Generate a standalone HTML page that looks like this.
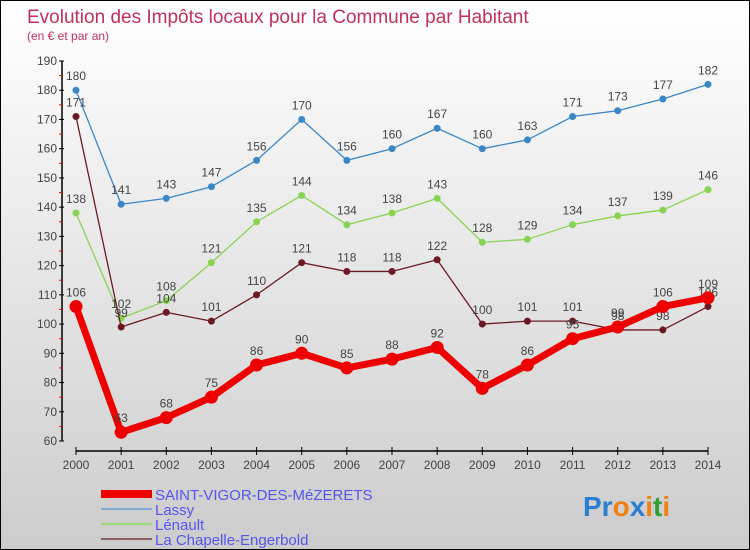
<!DOCTYPE html>
<html><head><meta charset="utf-8"><style>
body{margin:0;}
#c{width:750px;height:550px;position:relative;box-sizing:border-box;border:1px solid #000;background:linear-gradient(#ffffff,#cccccc);font-family:"Liberation Sans",sans-serif;overflow:hidden;}
svg text{font-family:"Liberation Sans",sans-serif;}
</style></head><body>
<div id="c">
<svg id="s" width="750" height="550">
<text x="26" y="22" font-size="19" fill="#c0305a">Evolution des Impôts locaux pour la Commune par Habitant</text>
<text x="26" y="39" font-size="12" fill="#c0305a">(en € et par an)</text>
</svg>
</div>
<script>
const years=[2000,2001,2002,2003,2004,2005,2006,2007,2008,2009,2010,2011,2012,2013,2014];
const saintVigor=[106,63,68,75,86,90,85,88,92,78,86,95,99,106,109];
const lassy=[180,141,143,147,156,170,156,160,167,160,163,171,173,177,182];
const lenault=[138,102,108,121,135,144,134,138,143,128,129,134,137,139,146];
const chapelle=[171,99,104,101,110,121,118,118,122,100,101,101,98,98,106];
const yTicks=[60,70,80,90,100,110,120,130,140,150,160,170,180,190];
const NS="http://www.w3.org/2000/svg";
const s=document.getElementById('s');
const X=i=>75+i*(707-75)/(years.length-1);
const Y=v=>440-(v-60)*(380/130);
function el(t,a,p){const e=document.createElementNS(NS,t);for(const k in a)e.setAttribute(k,a[k]);(p||s).appendChild(e);return e;}
// axes
let ax=el('line',{x1:61,y1:60,x2:61,y2:440,stroke:'#000','stroke-width':1.5});


let bx=el('line',{x1:75,y1:450,x2:707,y2:450,stroke:'#000','stroke-width':1.5});


yTicks.forEach(v=>{
 el('line',{x1:58,y1:Y(v),x2:63,y2:Y(v),stroke:'#000'});
 if(v<190)el('line',{x1:58,y1:Y(v+5),x2:61,y2:Y(v+5),stroke:'#f00'});
 const t=el('text',{x:56,y:Y(v)+4,'font-size':12,fill:'#444','text-anchor':'end'});
 t.textContent=v;
 
 
});
years.forEach((y,i)=>{
 el('line',{x1:X(i),y1:446,x2:X(i),y2:454,stroke:'#000'});
 const t=el('text',{x:X(i),y:468,'font-size':12,fill:'#444','text-anchor':'middle'});
 t.textContent=y;
 
 
});
function series(data,color,w,r,name){
 const g=el('g',{});
 
 
 el('polyline',{points:data.map((v,i)=>X(i)+','+Y(v)).join(' '),fill:'none',stroke:color,'stroke-width':w,'stroke-linejoin':'round'},g);
 data.forEach((v,i)=>{
  const c=el('circle',{cx:X(i),cy:Y(v),r:r,fill:color},g);
  
  
  const t=el('text',{x:X(i),y:Y(v)-10,'font-size':12,fill:'#444','text-anchor':'middle'},g);
  t.textContent=v;
  
  
 });
}
series(lassy,'#3b87c6',1.3,3.5,'series-lassy');
series(lenault,'#88d354',1.3,3.5,'series-lenault');
series(chapelle,'#6b1a22',1.3,3.5,'series-chapelle');
series(saintVigor,'#ee0000',7,6.5,'series-saint-vigor');
// legend
const leg=[['SAINT-VIGOR-DES-MéZERETS','#ee0000',8],['Lassy','#7aaad0',2],['Lénault','#99dd77',2],['La Chapelle-Engerbold','#906060',2]];
leg.forEach((l,i)=>{
 const y=493+i*15;
 const g=el('g',{});
 
 
 el('line',{x1:100,y1:y,x2:151,y2:y,stroke:l[1],'stroke-width':l[2]},g);
 const t=el('text',{x:154,y:y+6,'font-size':15,fill:'#5555ee'},g);
 t.textContent=l[0];
});
const p=el('text',{x:582,y:515,'font-size':28,'font-weight':'bold'});


[['Pr','#2a7fd0'],['o','#f08010'],['x','#2a7fd0'],['i','#f08010'],['t','#30a030'],['i','#f08010']].forEach(a=>{const ts=el('tspan',{fill:a[1]},p);ts.textContent=a[0];});
</script>
</body></html>
